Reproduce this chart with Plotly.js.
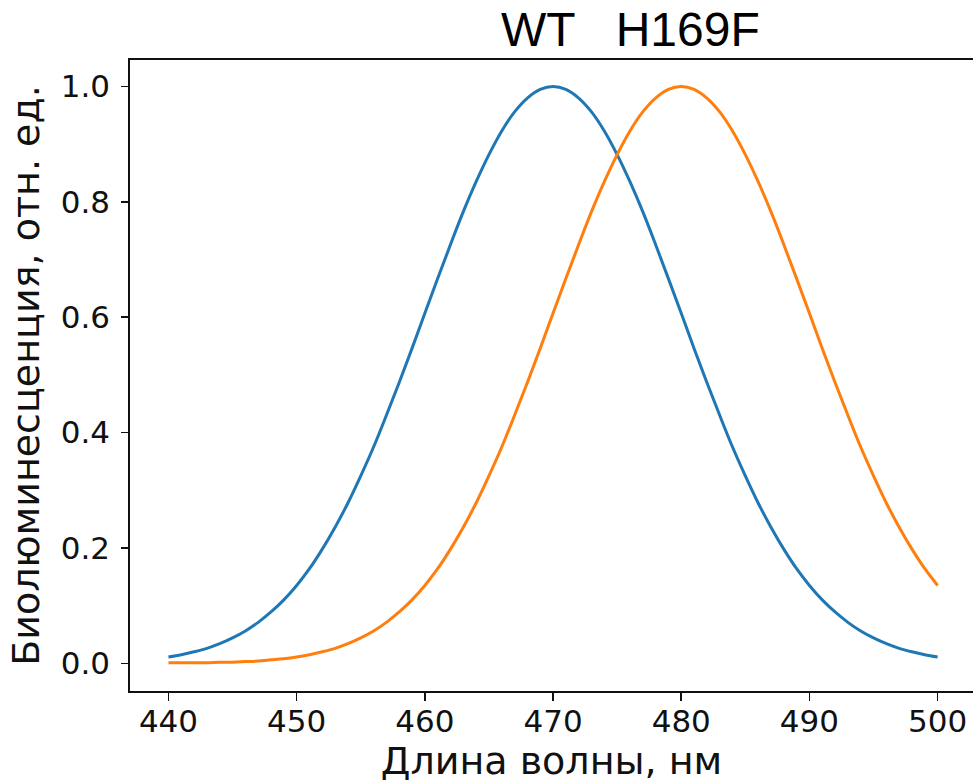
<!DOCTYPE html>
<html>
<head>
<meta charset="utf-8">
<script src="https://cdn.plot.ly/plotly-3.0.1.min.js"></script>
<style>
html,body{margin:0;padding:0;background:#fff;overflow:hidden;}
#chart{width:973px;height:783px;}
</style>
</head>
<body>
<div id="chart"></div>
<script>
const wavelength = [440,441,442,443,444,445,446,447,448,449,450,451,452,453,454,455,456,457,458,459,460,461,462,463,464,465,466,467,468,469,470,471,472,473,474,475,476,477,478,479,480,481,482,483,484,485,486,487,488,489,490,491,492,493,494,495,496,497,498,499,500];
const wtValues = [0.011,0.015,0.020,0.026,0.034,0.044,0.056,0.071,0.089,0.110,0.135,0.164,0.198,0.236,0.278,0.325,0.375,0.430,0.487,0.546,0.607,0.667,0.726,0.783,0.835,0.882,0.923,0.956,0.980,0.995,1.000,0.995,0.980,0.956,0.923,0.882,0.835,0.783,0.726,0.667,0.607,0.546,0.487,0.430,0.375,0.325,0.278,0.236,0.198,0.164,0.135,0.110,0.089,0.071,0.056,0.044,0.034,0.026,0.020,0.015,0.011];
const h169fValues = [0.001,0.001,0.001,0.001,0.002,0.002,0.003,0.004,0.006,0.008,0.011,0.015,0.020,0.026,0.034,0.044,0.056,0.071,0.089,0.110,0.135,0.164,0.198,0.236,0.278,0.325,0.375,0.430,0.487,0.546,0.607,0.667,0.726,0.783,0.835,0.882,0.923,0.956,0.980,0.995,1.000,0.995,0.980,0.956,0.923,0.882,0.835,0.783,0.726,0.667,0.607,0.546,0.487,0.430,0.375,0.325,0.278,0.236,0.198,0.164,0.135];
const xTicks = [440,450,460,470,480,490,500];
const yTicks = [0.0,0.2,0.4,0.6,0.8,1.0];
const yTickText = ['0.0','0.2','0.4','0.6','0.8','1.0'];
const titleText = 'WT\u00a0\u00a0\u00a0H169F';
const xTitle = 'Длина волны, нм';
const yTitle = 'Биолюминесценция, отн. ед.';

const traces = [
  {x: wavelength, y: wtValues, type: 'scatter', mode: 'lines', name: 'WT',
   line: {color: '#1f77b4', width: 3, shape: 'spline'}},
  {x: wavelength, y: h169fValues, type: 'scatter', mode: 'lines', name: 'H169F',
   line: {color: '#ff7f0e', width: 3, shape: 'spline'}}
];

const tickFont = {family: 'DejaVu Sans', size: 31, color: '#111'};
const titleFont = {family: 'DejaVu Sans', size: 38, color: '#111'};
const layout = {
  width: 973, height: 783,
  margin: {l: 130, r: 0, t: 60, b: 92, pad: 0},
  paper_bgcolor: '#fff', plot_bgcolor: '#fff',
  showlegend: false,
  xaxis: {
    range: [437, 502.76], tickvals: xTicks, ticks: 'outside', ticklen: 8, tickwidth: 1.6, tickcolor: '#111',
    showline: true, linecolor: '#111', linewidth: 1.8, mirror: true, showgrid: false, zeroline: false,
    tickfont: tickFont, ticklabelstandoff: -6,
    title: {text: xTitle, font: titleFont, standoff: 4}
  },
  yaxis: {
    range: [-0.048, 1.046], tickvals: yTicks, ticktext: yTickText, ticks: 'outside', ticklen: 7, tickwidth: 1.6, tickcolor: '#111',
    showline: true, linecolor: '#111', linewidth: 1.8, mirror: false, showgrid: false, zeroline: false,
    tickfont: tickFont, ticklabelstandoff: 5,
    title: {text: yTitle, font: titleFont, standoff: 9}
  },
  annotations: [{
    text: titleText, xref: 'paper', yref: 'paper',
    x: (630 - 130) / 843, y: 1 + (60 - 58) / 631, xanchor: 'center', yanchor: 'bottom',
    showarrow: false, font: {family: 'Liberation Sans', size: 48, color: '#000'}
  }]
};

Plotly.newPlot('chart', traces, layout, {displayModeBar: false, staticPlot: true});
</script>
</body>
</html>
